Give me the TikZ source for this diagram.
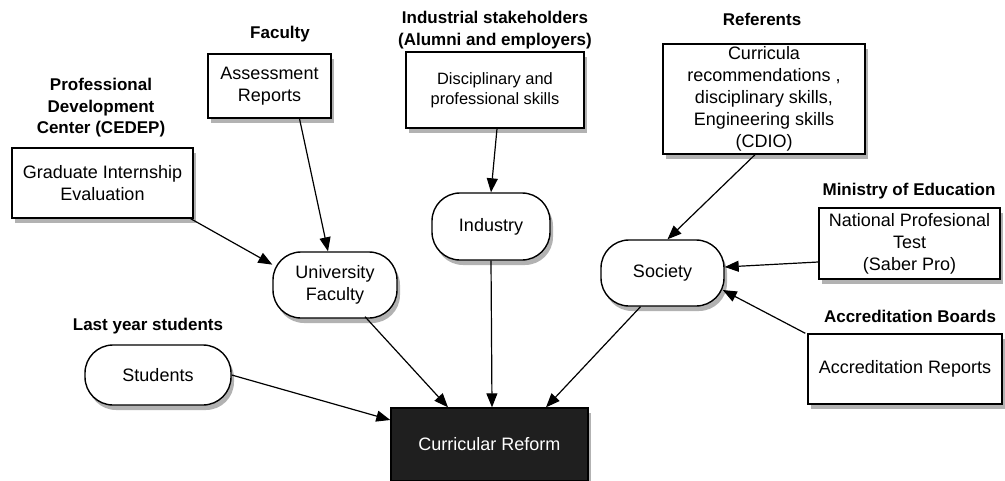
\documentclass[tikz,border=0pt]{standalone}
\usepackage{fontspec}
\setmainfont{Liberation Sans}
\usetikzlibrary{arrows.meta,shadows,calc}
\begin{document}
\begin{tikzpicture}[x=0.5pt,y=-0.5pt,
  box/.style={draw=black,line width=0.7pt,fill=white,align=center,inner sep=1pt,
    font=\fontsize{9}{11}\selectfont,
    drop shadow={shadow xshift=1.5pt,shadow yshift=-2.5pt,opacity=0.5,fill=black!60}},
  rbox/.style={box,rounded corners=14pt},
  hdr/.style={align=center,font=\fontsize{8.5}{10.8}\selectfont\bfseries,inner sep=0pt},
  arr/.style={-{Triangle[length=7pt,width=5.5pt]},line width=0.6pt,black}]
\useasboundingbox (0,0) rectangle (1005,481);
% rectangular boxes
\node[box,minimum width=90.5pt,minimum height=35pt] (gie) at (102.5,183) {Graduate Internship\\Evaluation};
\node[box,minimum width=61.5pt,minimum height=32pt] (ar) at (269.5,86) {Assessment\\Reports};
\node[box,minimum width=89pt,minimum height=38pt,font=\fontsize{8.2}{10}\selectfont] (dps) at (495,90) {Disciplinary and\\professional skills};
\node[box,minimum width=101pt,minimum height=55pt] (cur) at (764,99) {Curricula\\recommendations ,\\disciplinary skills,\\Engineering skills\\(CDIO)};
\node[box,minimum width=90.5pt,minimum height=35.5pt] (npt) at (909.5,243.5) {National Profesional\\Test\\(Saber Pro)};
\node[box,minimum width=97pt,minimum height=35pt] (acr) at (905,369) {Accreditation Reports};
% rounded boxes
\node[rbox,minimum width=59pt,minimum height=33.5pt] (ind) at (491,226.5) {Industry};
\node[rbox,minimum width=62pt,minimum height=33pt] (uf) at (335,285) {University\\Faculty};
\node[rbox,minimum width=61.5pt,minimum height=33pt] (soc) at (662.5,273) {Society};
\node[rbox,minimum width=73pt,minimum height=30pt] (stu) at (158,375) {Students};
% target
\node[box,fill=black!88,text=white,minimum width=98.5pt,minimum height=36.5pt] (cr) at (489.5,444.5) {Curricular Reform};
% headers
\node[hdr] (hgie) at (101,108) {Professional\\Development\\Center (CEDEP)};
\node[hdr] (har) at (280,34) {Faculty};
\node[hdr] (hdps) at (495,30) {Industrial stakeholders\\(Alumni and employers)};
\node[hdr] (hcur) at (762,19) {Referents};
\node[hdr] (hnpt) at (909,191) {Ministry of Education};
\node[hdr] (hacr) at (910,316) {Accreditation Boards};
\node[hdr] (hstu) at (148,326) {Last year students};
% connectors
\draw[arr] ($(gie.south east)+(-3,0)$) -- (uf.162);
\draw[arr] ($(ar.south)+(30,0)$) -- ($(uf.north)+(-7,0)$);
\draw[arr] ($(dps.south)+(2,0)$) -- (ind.north);
\draw[arr] ($(cur.south)+(-9,0)$) -- ($(soc.north)+(5,0)$);
\draw[arr] ($(npt.west)+(0,18.5)$) -- ($(soc.east)+(0,-6)$);
\draw[arr] ($(acr.north west)+(-2,0)$) -- ($(soc.east)+(-2,17)$);
\draw[arr] ($(uf.south)+(30,-2)$) -- ($(cr.north)+(-41.5,0)$);
\draw[arr] (ind.south) -- ($(cr.north)+(2.5,0)$);
\draw[arr] ($(soc.south)+(-22,0)$) -- ($(cr.north)+(56.5,0)$);
\draw[arr] (stu.east) -- ($(cr.west)+(0,-24.5)$);
\end{tikzpicture}
\end{document}
